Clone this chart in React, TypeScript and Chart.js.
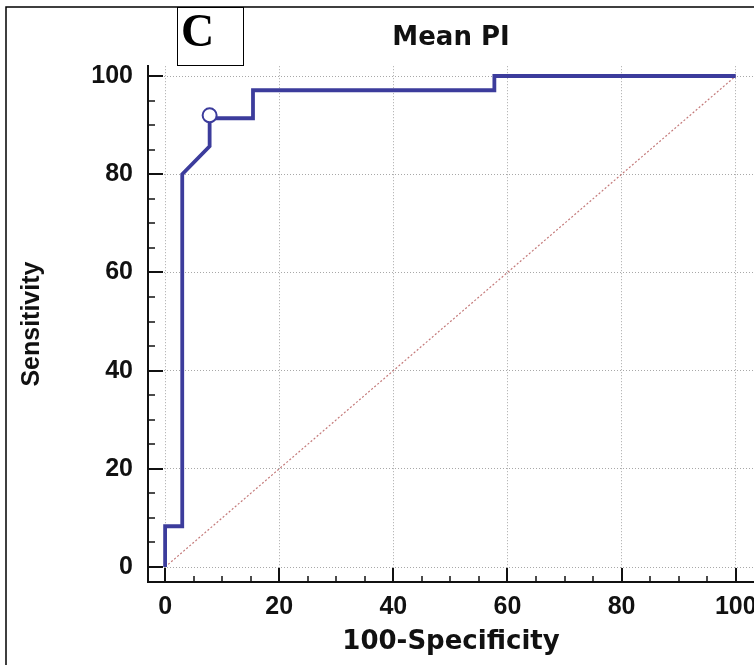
import { useEffect, useRef } from "react";
import { Chart, registerables } from "chart.js";

Chart.register(...registerables);

// ROC curve (100-Specificity, Sensitivity)
const ROC_X = [0, 0, 3, 3, 7.8, 7.8, 15.4, 15.4, 57.7, 57.7, 100];
const ROC_Y = [0, 8.3, 8.3, 80, 85.7, 91.4, 91.4, 97.1, 97.1, 100, 100];
// Reference diagonal
const DIAG_X = [0, 100];
const DIAG_Y = [0, 100];
// Optimal criterion marker
const CRIT_X = [7.8];
const CRIT_Y = [92];
// Axis ticks
const X_TICKS = [0, 20, 40, 60, 80, 100];
const Y_TICKS = [0, 20, 40, 60, 80, 100];
const MINOR_TICKS = [0, 5, 10, 15, 20, 25, 30, 35, 40, 45, 50, 55, 60, 65, 70, 75, 80, 85, 90, 95, 100];

const TITLE = "Mean PI";
const X_TITLE = "100-Specificity";
const Y_TITLE = "Sensitivity";
const PANEL = "C";

const ROC_COLOR = "#3c3c9c";
const DIAG_COLOR = "#c47a7a";
const TEXT_COLOR = "#111";

const toPoints = (xs: number[], ys: number[]) => xs.map((x, i) => ({ x, y: ys[i] }));

const decor = {
  id: "decor",
  afterDraw(chart: any) {
    const ctx = chart.ctx as CanvasRenderingContext2D;
    const xs = chart.scales.x;
    const ys = chart.scales.y;
    const area = chart.chartArea;
    ctx.save();
    ctx.strokeStyle = "#111";
    for (const v of MINOR_TICKS) {
      const major = X_TICKS.includes(v);
      const len = major ? 14 : 6;
      ctx.lineWidth = major ? 2 : 1.5;
      const px = Math.round(xs.getPixelForValue(v));
      ctx.beginPath();
      ctx.moveTo(px, area.bottom);
      ctx.lineTo(px, area.bottom - len);
      ctx.stroke();
      const majorY = Y_TICKS.includes(v);
      const leny = majorY ? 15 : 7;
      ctx.lineWidth = majorY ? 2 : 1.5;
      const py = Math.round(ys.getPixelForValue(v));
      ctx.beginPath();
      ctx.moveTo(area.left, py);
      ctx.lineTo(area.left + leny, py);
      ctx.stroke();
    }
    // outer frame
    ctx.strokeStyle = "#000";
    ctx.lineWidth = 1.5;
    ctx.beginPath();
    ctx.moveTo(6, chart.height);
    ctx.lineTo(6, 7);
    ctx.lineTo(chart.width, 7);
    ctx.stroke();
    // panel letter box
    ctx.lineWidth = 1;
    ctx.strokeRect(177.5, 7.5, 66, 58);
    ctx.fillStyle = "#000";
    ctx.font = "bold 46px 'Liberation Serif', 'Times New Roman', serif";
    ctx.textBaseline = "alphabetic";
    ctx.textAlign = "left";
    ctx.fillText(PANEL, 181, 46);
    ctx.restore();
  },
};

export default function App() {
  const ref = useRef<HTMLCanvasElement | null>(null);

  useEffect(() => {
    document.body.style.margin = "0";
    const canvas = ref.current;
    if (!canvas) return;
    const tickFont = { family: "'Liberation Sans', Arial, sans-serif", size: 25, weight: "bold" as const };
    const chart = new Chart(canvas, {
      type: "line",
      data: {
        datasets: [
          {
            label: "criterion",
            data: toPoints(CRIT_X, CRIT_Y),
            showLine: false,
            pointRadius: 7,
            pointBackgroundColor: "#ffffff",
            pointBorderColor: ROC_COLOR,
            pointBorderWidth: 2,
          },
          {
            label: "ROC",
            data: toPoints(ROC_X, ROC_Y),
            borderColor: ROC_COLOR,
            borderWidth: 3.8,
            pointRadius: 0,
            tension: 0,
            fill: false,
          },
          {
            label: "diagonal",
            data: toPoints(DIAG_X, DIAG_Y),
            borderColor: DIAG_COLOR,
            borderWidth: 1.2,
            borderDash: [2, 2],
            pointRadius: 0,
            fill: false,
          },
        ],
      },
      options: {
        responsive: false,
        animation: false,
        layout: { autoPadding: false, padding: 0 },
        plugins: {
          legend: { display: false },
          tooltip: { enabled: false },
          title: {
            display: true,
            text: TITLE,
            fullSize: false,
            color: TEXT_COLOR,
            font: { family: "'DejaVu Sans', sans-serif", size: 26, weight: "bold", lineHeight: 1.2 },
            padding: { top: 23, bottom: 12 },
          },
        },
        scales: {
          x: {
            type: "linear",
            min: -3,
            max: 103.2,
            afterBuildTicks: (s: any) => {
              s.ticks = X_TICKS.map((v) => ({ value: v }));
            },
            afterFit: (s: any) => {
              s.height = 83;
              s.paddingLeft = 0;
              s.paddingRight = 0;
            },
            ticks: {
              autoSkip: false,
              maxRotation: 0,
              padding: 10,
              color: TEXT_COLOR,
              font: tickFont,
            },
            grid: { color: "#a8a8a8", lineWidth: 1, drawTicks: false },
            border: { display: true, color: "#111", width: 2, dash: [1, 2] },
            title: {
              display: true,
              text: X_TITLE,
              color: TEXT_COLOR,
              font: { family: "'DejaVu Sans', sans-serif", size: 26, weight: "bold", lineHeight: 1.2 },
              padding: { top: 0, bottom: 7 },
            },
          },
          y: {
            type: "linear",
            min: -3.05,
            max: 102,
            afterBuildTicks: (s: any) => {
              s.ticks = Y_TICKS.map((v) => ({ value: v }));
            },
            afterFit: (s: any) => {
              s.width = 148;
              s.paddingTop = 0;
              s.paddingBottom = 0;
            },
            ticks: {
              autoSkip: false,
              padding: 15,
              color: TEXT_COLOR,
              font: tickFont,
            },
            grid: { color: "#a8a8a8", lineWidth: 1, drawTicks: false },
            border: { display: true, color: "#111", width: 2, dash: [1, 2] },
            title: {
              display: true,
              text: Y_TITLE,
              color: TEXT_COLOR,
              font: { family: "'Liberation Sans', Arial, sans-serif", size: 25, weight: "bold", lineHeight: 1.2 },
              padding: { top: 17, bottom: 0 },
            },
          },
        },
      },
      plugins: [decor],
    });
    return () => chart.destroy();
  }, []);

  return <canvas ref={ref} width={754} height={665} style={{ display: "block" }} />;
}
